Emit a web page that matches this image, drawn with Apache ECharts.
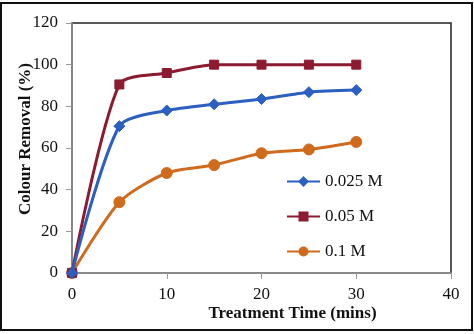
<!DOCTYPE html>
<html><head><meta charset="utf-8">
<script src="https://cdn.jsdelivr.net/npm/echarts@6/dist/echarts.min.js"></script>
<style>html,body{margin:0;padding:0;background:#fff}#c{width:474px;height:334px}</style>
</head><body><div id="c"></div>
<script>
const times = [0, 5, 10, 15, 20, 25, 30];
const s025 = [0, 70.5, 78, 81, 83.5, 86.8, 87.8];
const s05 = [0, 90.5, 96, 100, 100, 100, 100];
const s1 = [0, 34, 48, 51.8, 57.5, 59.3, 62.9];
const seriesNames = ['0.025 M', '0.05 M', '0.1 M'];
const xTicks = [0, 10, 20, 30, 40];
const yTicks = [0, 20, 40, 60, 80, 100, 120];

const font = '"Liberation Serif", "Times New Roman", serif';
const colors = ['#2b5fc2', '#8c1b2f', '#d06a1c'];
const symbols = ['diamond', 'rect', 'circle'];
const sizes = [11, 9, 11];
const data = [s025, s05, s1];

const chart = echarts.init(document.getElementById('c'), null, {renderer: 'canvas'});
chart.setOption({
  animation: false,
  backgroundColor: '#fff',
  grid: {left: 72, right: 23, top: 23, bottom: 61, show: true, borderColor: '#222', borderWidth: 1.5, containLabel: false, outerBoundsMode: 'none'},
  graphic: [{type: 'rect', shape: {x: 1, y: 3, width: 471, height: 327}, style: {fill: null, stroke: '#111', lineWidth: 2}, silent: true}],
  legend: {
    orient: 'vertical', left: 281, top: 168, itemGap: 18, itemWidth: 33, itemHeight: 10,
    textStyle: {fontFamily: font, fontSize: 17, color: '#111'},
    data: seriesNames
  },
  xAxis: {
    type: 'value', min: 0, max: 40, interval: 10,
    name: 'Treatment Time (mins)', nameLocation: 'middle', nameGap: 32, nameMoveOverlap: false,
    nameTextStyle: {fontFamily: font, fontSize: 17, fontWeight: 'bold', color: '#111', padding: [0,0,0,62]},
    axisLine: {show: true, lineStyle: {color: '#999', width: 1.5}},
    axisTick: {show: true, length: 6, lineStyle: {color: '#999'}},
    axisLabel: {fontFamily: font, fontSize: 17, color: '#111', margin: 13, formatter: v => xTicks.includes(v) ? String(v) : ''},
    splitLine: {show: false}
  },
  yAxis: {
    type: 'value', min: 0, max: 120, interval: 20,
    name: 'Colour Removal (%)', nameLocation: 'middle', nameGap: 38, nameMoveOverlap: false,
    nameTextStyle: {fontFamily: font, fontSize: 17, fontWeight: 'bold', color: '#111', padding: [0,0,0,18]},
    axisLine: {show: true, lineStyle: {color: '#999', width: 1.5}},
    axisTick: {show: true, length: 6, lineStyle: {color: '#999'}},
    axisLabel: {fontFamily: font, fontSize: 17, color: '#111', margin: 14, formatter: v => yTicks.includes(v) ? String(v) : ''},
    splitLine: {show: false}
  },
  series: seriesNames.map((n, i) => ({
    name: n, type: 'line', smooth: 0.25, smoothConstraint: false,
    data: times.map((t, j) => [t, data[i][j]]),
    symbol: symbols[i], symbolSize: sizes[i],
    lineStyle: {color: colors[i], width: 3},
    itemStyle: {color: colors[i], borderColor: colors[i], borderWidth: 1},
    z: 3 - i
  }))
});
</script></body></html>
